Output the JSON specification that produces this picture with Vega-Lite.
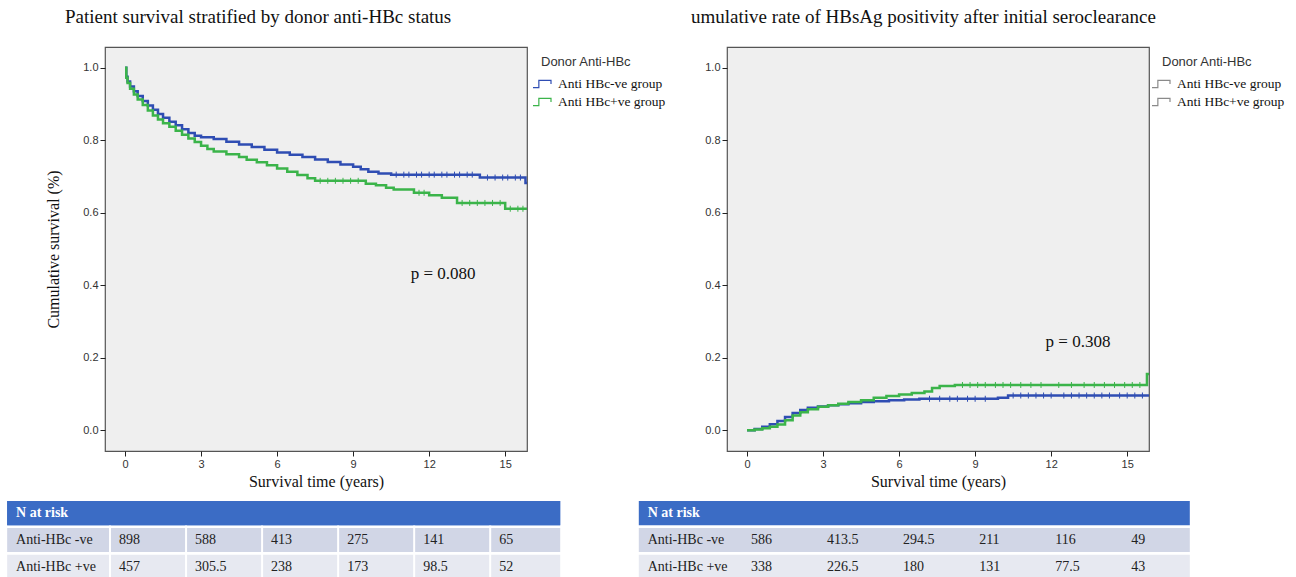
{
  "$schema": "https://vega.github.io/schema/vega-lite/v6.json",
  "background": "white",
  "padding": {"left": 7, "top": 7, "right": 5, "bottom": 0},
  "autosize": {"type": "pad"},
  "bounds": "flush",
  "columns": 2,
  "spacing": {"row": 50, "column": 200},
  "config": {
    "font": "Liberation Sans",
    "axis": {"domain": false, "grid": false, "ticks": true, "tickSize": 5, "tickColor": "#222", "tickWidth": 1, "labelFont": "Liberation Sans", "labelFontSize": 11, "labelColor": "#333", "titleFont": "Liberation Serif", "titleFontSize": 16, "titleFontWeight": "normal", "titleColor": "#111"},
    "axisX": {"labelPadding": 2, "titlePadding": 4},
    "axisY": {"labelPadding": 2, "titlePadding": 21}
  },
  "datasets": {
    "km": [
      {"group": "Anti HBc-ve group", "time": 0, "value": 1.0},
      {"group": "Anti HBc-ve group", "time": 0.05, "value": 0.975},
      {"group": "Anti HBc-ve group", "time": 0.1, "value": 0.962},
      {"group": "Anti HBc-ve group", "time": 0.2, "value": 0.948},
      {"group": "Anti HBc-ve group", "time": 0.35, "value": 0.935},
      {"group": "Anti HBc-ve group", "time": 0.5, "value": 0.922},
      {"group": "Anti HBc-ve group", "time": 0.7, "value": 0.908},
      {"group": "Anti HBc-ve group", "time": 0.9, "value": 0.896},
      {"group": "Anti HBc-ve group", "time": 1.1, "value": 0.884},
      {"group": "Anti HBc-ve group", "time": 1.3, "value": 0.872},
      {"group": "Anti HBc-ve group", "time": 1.5, "value": 0.862},
      {"group": "Anti HBc-ve group", "time": 1.75, "value": 0.851},
      {"group": "Anti HBc-ve group", "time": 2.0, "value": 0.841},
      {"group": "Anti HBc-ve group", "time": 2.25, "value": 0.83},
      {"group": "Anti HBc-ve group", "time": 2.5, "value": 0.82},
      {"group": "Anti HBc-ve group", "time": 2.75, "value": 0.812},
      {"group": "Anti HBc-ve group", "time": 3.0, "value": 0.808},
      {"group": "Anti HBc-ve group", "time": 3.5, "value": 0.803},
      {"group": "Anti HBc-ve group", "time": 4.0, "value": 0.796},
      {"group": "Anti HBc-ve group", "time": 4.5, "value": 0.788},
      {"group": "Anti HBc-ve group", "time": 5.0, "value": 0.781},
      {"group": "Anti HBc-ve group", "time": 5.5, "value": 0.774},
      {"group": "Anti HBc-ve group", "time": 6.0, "value": 0.766},
      {"group": "Anti HBc-ve group", "time": 6.5, "value": 0.76},
      {"group": "Anti HBc-ve group", "time": 7.0, "value": 0.754},
      {"group": "Anti HBc-ve group", "time": 7.5, "value": 0.747},
      {"group": "Anti HBc-ve group", "time": 8.0, "value": 0.74},
      {"group": "Anti HBc-ve group", "time": 8.5, "value": 0.733},
      {"group": "Anti HBc-ve group", "time": 9.0, "value": 0.727},
      {"group": "Anti HBc-ve group", "time": 9.3, "value": 0.72},
      {"group": "Anti HBc-ve group", "time": 9.6, "value": 0.713},
      {"group": "Anti HBc-ve group", "time": 10.0, "value": 0.708},
      {"group": "Anti HBc-ve group", "time": 10.5, "value": 0.705},
      {"group": "Anti HBc-ve group", "time": 14.0, "value": 0.697},
      {"group": "Anti HBc-ve group", "time": 15.8, "value": 0.682},
      {"group": "Anti HBc-ve group", "time": 15.86, "value": 0.682},
      {"group": "Anti HBc+ve group", "time": 0, "value": 1.0},
      {"group": "Anti HBc+ve group", "time": 0.05, "value": 0.972},
      {"group": "Anti HBc+ve group", "time": 0.1, "value": 0.958},
      {"group": "Anti HBc+ve group", "time": 0.2, "value": 0.942},
      {"group": "Anti HBc+ve group", "time": 0.35, "value": 0.926},
      {"group": "Anti HBc+ve group", "time": 0.5, "value": 0.912},
      {"group": "Anti HBc+ve group", "time": 0.7, "value": 0.897},
      {"group": "Anti HBc+ve group", "time": 0.9, "value": 0.882},
      {"group": "Anti HBc+ve group", "time": 1.1, "value": 0.868},
      {"group": "Anti HBc+ve group", "time": 1.3, "value": 0.857},
      {"group": "Anti HBc+ve group", "time": 1.5, "value": 0.847},
      {"group": "Anti HBc+ve group", "time": 1.75, "value": 0.837},
      {"group": "Anti HBc+ve group", "time": 2.0, "value": 0.826},
      {"group": "Anti HBc+ve group", "time": 2.25, "value": 0.815},
      {"group": "Anti HBc+ve group", "time": 2.5, "value": 0.805},
      {"group": "Anti HBc+ve group", "time": 2.75, "value": 0.795},
      {"group": "Anti HBc+ve group", "time": 3.0, "value": 0.785},
      {"group": "Anti HBc+ve group", "time": 3.25, "value": 0.776},
      {"group": "Anti HBc+ve group", "time": 3.5, "value": 0.769},
      {"group": "Anti HBc+ve group", "time": 4.0, "value": 0.761},
      {"group": "Anti HBc+ve group", "time": 4.5, "value": 0.754},
      {"group": "Anti HBc+ve group", "time": 4.8, "value": 0.746},
      {"group": "Anti HBc+ve group", "time": 5.2, "value": 0.739},
      {"group": "Anti HBc+ve group", "time": 5.6, "value": 0.731},
      {"group": "Anti HBc+ve group", "time": 6.0, "value": 0.722},
      {"group": "Anti HBc+ve group", "time": 6.4, "value": 0.713},
      {"group": "Anti HBc+ve group", "time": 6.8, "value": 0.704},
      {"group": "Anti HBc+ve group", "time": 7.2, "value": 0.695},
      {"group": "Anti HBc+ve group", "time": 7.5, "value": 0.688},
      {"group": "Anti HBc+ve group", "time": 9.5, "value": 0.68},
      {"group": "Anti HBc+ve group", "time": 9.9, "value": 0.676},
      {"group": "Anti HBc+ve group", "time": 10.3, "value": 0.669},
      {"group": "Anti HBc+ve group", "time": 10.6, "value": 0.664},
      {"group": "Anti HBc+ve group", "time": 11.4, "value": 0.655},
      {"group": "Anti HBc+ve group", "time": 12.0, "value": 0.648},
      {"group": "Anti HBc+ve group", "time": 12.5, "value": 0.641},
      {"group": "Anti HBc+ve group", "time": 13.1, "value": 0.627},
      {"group": "Anti HBc+ve group", "time": 15.0, "value": 0.611},
      {"group": "Anti HBc+ve group", "time": 15.86, "value": 0.611}
    ],
    "censL": [
      {"group": "Anti HBc-ve group", "time": 10.7, "value": 0.705},
      {"group": "Anti HBc-ve group", "time": 11.0, "value": 0.705},
      {"group": "Anti HBc-ve group", "time": 11.2, "value": 0.705},
      {"group": "Anti HBc-ve group", "time": 11.5, "value": 0.705},
      {"group": "Anti HBc-ve group", "time": 11.7, "value": 0.705},
      {"group": "Anti HBc-ve group", "time": 12.0, "value": 0.705},
      {"group": "Anti HBc-ve group", "time": 12.2, "value": 0.705},
      {"group": "Anti HBc-ve group", "time": 12.5, "value": 0.705},
      {"group": "Anti HBc-ve group", "time": 12.7, "value": 0.705},
      {"group": "Anti HBc-ve group", "time": 13.0, "value": 0.705},
      {"group": "Anti HBc-ve group", "time": 13.2, "value": 0.705},
      {"group": "Anti HBc-ve group", "time": 13.5, "value": 0.705},
      {"group": "Anti HBc-ve group", "time": 13.7, "value": 0.705},
      {"group": "Anti HBc-ve group", "time": 14.3, "value": 0.697},
      {"group": "Anti HBc-ve group", "time": 14.6, "value": 0.697},
      {"group": "Anti HBc-ve group", "time": 14.9, "value": 0.697},
      {"group": "Anti HBc-ve group", "time": 15.1, "value": 0.697},
      {"group": "Anti HBc-ve group", "time": 15.4, "value": 0.697},
      {"group": "Anti HBc-ve group", "time": 15.6, "value": 0.697},
      {"group": "Anti HBc+ve group", "time": 7.7, "value": 0.688},
      {"group": "Anti HBc+ve group", "time": 8.0, "value": 0.688},
      {"group": "Anti HBc+ve group", "time": 8.3, "value": 0.688},
      {"group": "Anti HBc+ve group", "time": 8.6, "value": 0.688},
      {"group": "Anti HBc+ve group", "time": 8.9, "value": 0.688},
      {"group": "Anti HBc+ve group", "time": 9.2, "value": 0.688},
      {"group": "Anti HBc+ve group", "time": 11.6, "value": 0.655},
      {"group": "Anti HBc+ve group", "time": 11.8, "value": 0.655},
      {"group": "Anti HBc+ve group", "time": 13.3, "value": 0.627},
      {"group": "Anti HBc+ve group", "time": 13.6, "value": 0.627},
      {"group": "Anti HBc+ve group", "time": 13.9, "value": 0.627},
      {"group": "Anti HBc+ve group", "time": 14.2, "value": 0.627},
      {"group": "Anti HBc+ve group", "time": 14.5, "value": 0.627},
      {"group": "Anti HBc+ve group", "time": 14.8, "value": 0.627},
      {"group": "Anti HBc+ve group", "time": 15.2, "value": 0.611},
      {"group": "Anti HBc+ve group", "time": 15.5, "value": 0.611},
      {"group": "Anti HBc+ve group", "time": 15.7, "value": 0.611}
    ],
    "ci": [
      {"group": "Anti HBc-ve group", "time": 0, "value": 0},
      {"group": "Anti HBc-ve group", "time": 0.3, "value": 0.004},
      {"group": "Anti HBc-ve group", "time": 0.6, "value": 0.01},
      {"group": "Anti HBc-ve group", "time": 0.9, "value": 0.017},
      {"group": "Anti HBc-ve group", "time": 1.2, "value": 0.026},
      {"group": "Anti HBc-ve group", "time": 1.5, "value": 0.037},
      {"group": "Anti HBc-ve group", "time": 1.8, "value": 0.048},
      {"group": "Anti HBc-ve group", "time": 2.1, "value": 0.056},
      {"group": "Anti HBc-ve group", "time": 2.4, "value": 0.062},
      {"group": "Anti HBc-ve group", "time": 2.8, "value": 0.066},
      {"group": "Anti HBc-ve group", "time": 3.2, "value": 0.069},
      {"group": "Anti HBc-ve group", "time": 3.6, "value": 0.072},
      {"group": "Anti HBc-ve group", "time": 4.0, "value": 0.075},
      {"group": "Anti HBc-ve group", "time": 4.5, "value": 0.078},
      {"group": "Anti HBc-ve group", "time": 5.0, "value": 0.08},
      {"group": "Anti HBc-ve group", "time": 5.6, "value": 0.083},
      {"group": "Anti HBc-ve group", "time": 6.2, "value": 0.085},
      {"group": "Anti HBc-ve group", "time": 6.8, "value": 0.087},
      {"group": "Anti HBc-ve group", "time": 9.9, "value": 0.09},
      {"group": "Anti HBc-ve group", "time": 10.3, "value": 0.096},
      {"group": "Anti HBc-ve group", "time": 15.86, "value": 0.096},
      {"group": "Anti HBc+ve group", "time": 0, "value": 0},
      {"group": "Anti HBc+ve group", "time": 0.3, "value": 0.002},
      {"group": "Anti HBc+ve group", "time": 0.6, "value": 0.006},
      {"group": "Anti HBc+ve group", "time": 0.9, "value": 0.01},
      {"group": "Anti HBc+ve group", "time": 1.2, "value": 0.016},
      {"group": "Anti HBc+ve group", "time": 1.5, "value": 0.028},
      {"group": "Anti HBc+ve group", "time": 1.8, "value": 0.041},
      {"group": "Anti HBc+ve group", "time": 2.1, "value": 0.05},
      {"group": "Anti HBc+ve group", "time": 2.4, "value": 0.058},
      {"group": "Anti HBc+ve group", "time": 2.8, "value": 0.065},
      {"group": "Anti HBc+ve group", "time": 3.2, "value": 0.069},
      {"group": "Anti HBc+ve group", "time": 3.6, "value": 0.073},
      {"group": "Anti HBc+ve group", "time": 4.0, "value": 0.078},
      {"group": "Anti HBc+ve group", "time": 4.5, "value": 0.083},
      {"group": "Anti HBc+ve group", "time": 5.0, "value": 0.09},
      {"group": "Anti HBc+ve group", "time": 5.5, "value": 0.095},
      {"group": "Anti HBc+ve group", "time": 6.0, "value": 0.099},
      {"group": "Anti HBc+ve group", "time": 6.5, "value": 0.103},
      {"group": "Anti HBc+ve group", "time": 7.0, "value": 0.107},
      {"group": "Anti HBc+ve group", "time": 7.3, "value": 0.117},
      {"group": "Anti HBc+ve group", "time": 7.6, "value": 0.122},
      {"group": "Anti HBc+ve group", "time": 8.2, "value": 0.125},
      {"group": "Anti HBc+ve group", "time": 15.72, "value": 0.125},
      {"group": "Anti HBc+ve group", "time": 15.78, "value": 0.155},
      {"group": "Anti HBc+ve group", "time": 15.86, "value": 0.155}
    ],
    "censR": [
      {"group": "Anti HBc-ve group", "time": 7.2, "value": 0.087},
      {"group": "Anti HBc-ve group", "time": 7.6, "value": 0.087},
      {"group": "Anti HBc-ve group", "time": 8.0, "value": 0.087},
      {"group": "Anti HBc-ve group", "time": 8.3, "value": 0.087},
      {"group": "Anti HBc-ve group", "time": 8.7, "value": 0.087},
      {"group": "Anti HBc-ve group", "time": 9.0, "value": 0.087},
      {"group": "Anti HBc-ve group", "time": 9.4, "value": 0.087},
      {"group": "Anti HBc-ve group", "time": 10.5, "value": 0.096},
      {"group": "Anti HBc-ve group", "time": 10.8, "value": 0.096},
      {"group": "Anti HBc-ve group", "time": 11.1, "value": 0.096},
      {"group": "Anti HBc-ve group", "time": 11.4, "value": 0.096},
      {"group": "Anti HBc-ve group", "time": 11.7, "value": 0.096},
      {"group": "Anti HBc-ve group", "time": 12.0, "value": 0.096},
      {"group": "Anti HBc-ve group", "time": 12.5, "value": 0.096},
      {"group": "Anti HBc-ve group", "time": 12.8, "value": 0.096},
      {"group": "Anti HBc-ve group", "time": 13.1, "value": 0.096},
      {"group": "Anti HBc-ve group", "time": 13.4, "value": 0.096},
      {"group": "Anti HBc-ve group", "time": 13.7, "value": 0.096},
      {"group": "Anti HBc-ve group", "time": 14.0, "value": 0.096},
      {"group": "Anti HBc-ve group", "time": 14.3, "value": 0.096},
      {"group": "Anti HBc-ve group", "time": 14.7, "value": 0.096},
      {"group": "Anti HBc-ve group", "time": 15.0, "value": 0.096},
      {"group": "Anti HBc-ve group", "time": 15.3, "value": 0.096},
      {"group": "Anti HBc-ve group", "time": 15.6, "value": 0.096},
      {"group": "Anti HBc+ve group", "time": 8.5, "value": 0.125},
      {"group": "Anti HBc+ve group", "time": 8.8, "value": 0.125},
      {"group": "Anti HBc+ve group", "time": 9.1, "value": 0.125},
      {"group": "Anti HBc+ve group", "time": 9.4, "value": 0.125},
      {"group": "Anti HBc+ve group", "time": 9.8, "value": 0.125},
      {"group": "Anti HBc+ve group", "time": 10.1, "value": 0.125},
      {"group": "Anti HBc+ve group", "time": 10.4, "value": 0.125},
      {"group": "Anti HBc+ve group", "time": 10.8, "value": 0.125},
      {"group": "Anti HBc+ve group", "time": 11.2, "value": 0.125},
      {"group": "Anti HBc+ve group", "time": 11.6, "value": 0.125},
      {"group": "Anti HBc+ve group", "time": 12.3, "value": 0.125},
      {"group": "Anti HBc+ve group", "time": 12.8, "value": 0.125},
      {"group": "Anti HBc+ve group", "time": 13.3, "value": 0.125},
      {"group": "Anti HBc+ve group", "time": 13.7, "value": 0.125},
      {"group": "Anti HBc+ve group", "time": 14.1, "value": 0.125},
      {"group": "Anti HBc+ve group", "time": 14.5, "value": 0.125},
      {"group": "Anti HBc+ve group", "time": 14.9, "value": 0.125},
      {"group": "Anti HBc+ve group", "time": 15.2, "value": 0.125},
      {"group": "Anti HBc+ve group", "time": 15.5, "value": 0.125}
    ],
    "rows": [
      {"row": "N at risk"},
      {"row": "Anti-HBc -ve"},
      {"row": "Anti-HBc +ve"}
    ],
    "riskL": [
      {"row": "Anti-HBc -ve", "time": 0, "n": "898"},
      {"row": "Anti-HBc -ve", "time": 3, "n": "588"},
      {"row": "Anti-HBc -ve", "time": 6, "n": "413"},
      {"row": "Anti-HBc -ve", "time": 9, "n": "275"},
      {"row": "Anti-HBc -ve", "time": 12, "n": "141"},
      {"row": "Anti-HBc -ve", "time": 15, "n": "65"},
      {"row": "Anti-HBc +ve", "time": 0, "n": "457"},
      {"row": "Anti-HBc +ve", "time": 3, "n": "305.5"},
      {"row": "Anti-HBc +ve", "time": 6, "n": "238"},
      {"row": "Anti-HBc +ve", "time": 9, "n": "173"},
      {"row": "Anti-HBc +ve", "time": 12, "n": "98.5"},
      {"row": "Anti-HBc +ve", "time": 15, "n": "52"}
    ],
    "riskR": [
      {"row": "Anti-HBc -ve", "time": 0, "n": "586"},
      {"row": "Anti-HBc -ve", "time": 3, "n": "413.5"},
      {"row": "Anti-HBc -ve", "time": 6, "n": "294.5"},
      {"row": "Anti-HBc -ve", "time": 9, "n": "211"},
      {"row": "Anti-HBc -ve", "time": 12, "n": "116"},
      {"row": "Anti-HBc -ve", "time": 15, "n": "49"},
      {"row": "Anti-HBc +ve", "time": 0, "n": "338"},
      {"row": "Anti-HBc +ve", "time": 3, "n": "226.5"},
      {"row": "Anti-HBc +ve", "time": 6, "n": "180"},
      {"row": "Anti-HBc +ve", "time": 9, "n": "131"},
      {"row": "Anti-HBc +ve", "time": 12, "n": "77.5"},
      {"row": "Anti-HBc +ve", "time": 15, "n": "43"}
    ],
    "pL": [{"label": "p = 0.080"}],
    "pR": [{"label": "p = 0.308"}]
  },
  "resolve": {"scale": {"x": "independent", "y": "independent", "color": "independent", "stroke": "independent"}, "legend": {"color": "independent", "stroke": "independent"}},
  "concat": [
    {
      "width": 422,
      "height": 404,
      "title": {"text": "Patient survival stratified by donor anti-HBc status", "anchor": "start", "frame": "group", "dx": -40, "offset": 20, "font": "Liberation Serif", "fontSize": 19, "fontWeight": "normal", "color": "#111"},
      "view": {"fill": "#efefef", "stroke": "#555", "strokeWidth": 1.2},
      "layer": [
        {
          "data": {"name": "km"},
          "mark": {"type": "line", "interpolate": "step-after", "strokeWidth": 2.5},
          "encoding": {
            "x": {"field": "time", "type": "quantitative", "scale": {"domain": [-0.79, 15.86], "nice": false, "zero": false}, "axis": {"values": [0, 3, 6, 9, 12, 15], "title": "Survival time (years)"}},
            "y": {"field": "value", "type": "quantitative", "scale": {"domain": [-0.057, 1.057], "nice": false, "zero": false}, "axis": {"values": [0, 0.2, 0.4, 0.6, 0.8, 1.0], "format": ".1f", "title": "Cumulative survival (%)"}},
            "color": {"field": "group", "type": "nominal", "scale": {"domain": ["Anti HBc-ve group", "Anti HBc+ve group"], "range": ["#2f4db3", "#3bb44a"]},
              "legend": {"title": "Donor Anti-HBc", "orient": "none", "legendX": 427, "legendY": 9, "direction": "vertical", "symbolType": "M-1,0.4H-0.35V-0.4H1V0", "symbolSize": 324, "symbolStrokeWidth": 1.2, "symbolFillColor": "transparent", "labelFont": "Liberation Serif", "labelFontSize": 13.5, "labelColor": "#111", "labelOffset": 6, "titleFont": "Liberation Sans", "titleFontSize": 13, "titleFontWeight": "normal", "titleColor": "#333", "titlePadding": 5, "rowPadding": 1, "padding": 0,
                "encode": {"title": {"update": {"dx": {"value": 9}}}, "symbols": {"update": {"fill": {"value": "transparent"}}}}}}
          }
        },
        {
          "data": {"name": "censL"},
          "mark": {"type": "point", "shape": "M0,-1V1", "filled": false, "size": 36, "strokeWidth": 1, "opacity": 1},
          "encoding": {
            "x": {"field": "time", "type": "quantitative"},
            "y": {"field": "value", "type": "quantitative"},
            "color": {"field": "group", "type": "nominal"}
          }
        },
        {
          "data": {"name": "pL"},
          "mark": {"type": "text", "font": "Liberation Serif", "fontSize": 17, "color": "#111", "align": "center", "baseline": "middle"},
          "encoding": {"x": {"datum": 12.55}, "y": {"datum": 0.43}, "text": {"field": "label"}}
        }
      ]
    },
    {
      "width": 422,
      "height": 404,
      "title": {"text": "umulative rate of HBsAg positivity after initial seroclearance", "anchor": "start", "frame": "group", "dx": -36, "offset": 20, "font": "Liberation Serif", "fontSize": 19, "fontWeight": "normal", "color": "#111"},
      "view": {"fill": "#efefef", "stroke": "#555", "strokeWidth": 1.2},
      "layer": [
        {
          "data": {"name": "ci"},
          "mark": {"type": "line", "interpolate": "step-after", "strokeWidth": 0},
          "encoding": {
            "x": {"field": "time", "type": "quantitative", "scale": {"domain": [-0.79, 15.86], "nice": false, "zero": false}, "axis": {"values": [0, 3, 6, 9, 12, 15], "title": "Survival time (years)"}},
            "y": {"field": "value", "type": "quantitative", "scale": {"domain": [-0.057, 1.057], "nice": false, "zero": false}, "axis": {"values": [0, 0.2, 0.4, 0.6, 0.8, 1.0], "format": ".1f", "title": null}},
            "stroke": {"field": "group", "type": "nominal", "scale": {"domain": ["Anti HBc-ve group", "Anti HBc+ve group"], "range": ["#8a8a8a", "#8a8a8a"]},
              "legend": {"title": "Donor Anti-HBc", "orient": "none", "legendX": 424, "legendY": 9, "direction": "vertical", "symbolType": "M-1,0.4H-0.35V-0.4H1V0", "symbolSize": 324, "symbolStrokeWidth": 1.2, "symbolFillColor": "transparent", "symbolOpacity": 1, "labelFont": "Liberation Serif", "labelFontSize": 13.5, "labelColor": "#111", "labelOffset": 6, "titleFont": "Liberation Sans", "titleFontSize": 13, "titleFontWeight": "normal", "titleColor": "#333", "titlePadding": 5, "rowPadding": 1, "padding": 0,
                "encode": {"title": {"update": {"dx": {"value": 11}}}, "symbols": {"update": {"fill": {"value": "transparent"}, "strokeWidth": {"value": 1.2}}}}}}
          }
        },
        {
          "data": {"name": "ci"},
          "mark": {"type": "line", "interpolate": "step-after", "strokeWidth": 2.5},
          "encoding": {
            "x": {"field": "time", "type": "quantitative"},
            "y": {"field": "value", "type": "quantitative"},
            "color": {"field": "group", "type": "nominal", "scale": {"domain": ["Anti HBc-ve group", "Anti HBc+ve group"], "range": ["#2f4db3", "#3bb44a"]}, "legend": null}
          }
        },
        {
          "data": {"name": "censR"},
          "mark": {"type": "point", "shape": "M0,-1V1", "filled": false, "size": 36, "strokeWidth": 1, "opacity": 1},
          "encoding": {
            "x": {"field": "time", "type": "quantitative"},
            "y": {"field": "value", "type": "quantitative"},
            "color": {"field": "group", "type": "nominal", "legend": null}
          }
        },
        {
          "data": {"name": "pR"},
          "mark": {"type": "text", "font": "Liberation Serif", "fontSize": 17, "color": "#111", "align": "center", "baseline": "middle"},
          "encoding": {"x": {"datum": 13.06}, "y": {"datum": 0.243}, "text": {"field": "label"}}
        }
      ]
    },
    {
      "width": 422,
      "height": 78,
      "view": {"stroke": null, "fill": null},
      "layer": [
        {
          "data": {"name": "rows"},
          "mark": {"type": "rect"},
          "encoding": {
            "x": {"datum": -4.65, "type": "quantitative", "scale": {"domain": [-0.79, 15.86], "nice": false, "zero": false}, "axis": null},
            "x2": {"datum": 17.17},
            "y": {"field": "row", "type": "nominal", "scale": {"domain": ["N at risk", "Anti-HBc -ve", "Anti-HBc +ve"], "paddingInner": 0.1, "paddingOuter": 0}, "axis": null},
            "color": {"field": "row", "type": "nominal", "scale": {"domain": ["N at risk", "Anti-HBc -ve", "Anti-HBc +ve"], "range": ["#3b6cc5", "#d1d6e6", "#e7e9f1"]}, "legend": null}
          }
        },
        {
          "data": {"name": "riskL"},
          "transform": [{"filter": "datum.row === 'Anti-HBc -ve'"}],
          "mark": {"type": "rule", "color": "white", "strokeWidth": 2, "xOffset": -15},
          "encoding": {"x": {"field": "time", "type": "quantitative"}}
        },
        {
          "data": {"name": "rows"},
          "transform": [{"filter": "datum.row === 'N at risk'"}],
          "mark": {"type": "rect"},
          "encoding": {
            "x": {"datum": -4.65},
            "x2": {"datum": 17.17},
            "y": {"field": "row", "type": "nominal"},
            "color": {"field": "row", "type": "nominal"}
          }
        },
        {
          "data": {"name": "rows"},
          "transform": [{"filter": "datum.row !== 'N at risk'"}],
          "mark": {"type": "text", "align": "left", "baseline": "middle", "font": "Liberation Serif", "fontSize": 14, "color": "#222"},
          "encoding": {
            "x": {"datum": -4.3},
            "y": {"field": "row", "type": "nominal"},
            "text": {"field": "row"}
          }
        },
        {
          "data": {"name": "rows"},
          "transform": [{"filter": "datum.row === 'N at risk'"}],
          "mark": {"type": "text", "align": "left", "baseline": "middle", "font": "Liberation Serif", "fontSize": 14, "fontWeight": "bold", "color": "white"},
          "encoding": {
            "x": {"datum": -4.3},
            "y": {"field": "row", "type": "nominal"},
            "text": {"field": "row"}
          }
        },
        {
          "data": {"name": "riskL"},
          "mark": {"type": "text", "align": "left", "baseline": "middle", "font": "Liberation Serif", "fontSize": 14, "color": "#222", "dx": -6},
          "encoding": {
            "x": {"field": "time", "type": "quantitative"},
            "y": {"field": "row", "type": "nominal"},
            "text": {"field": "n"}
          }
        }
      ]
    },
    {
      "width": 422,
      "height": 78,
      "view": {"stroke": null, "fill": null},
      "layer": [
        {
          "data": {"name": "rows"},
          "mark": {"type": "rect"},
          "encoding": {
            "x": {"datum": -4.27, "type": "quantitative", "scale": {"domain": [-0.79, 15.86], "nice": false, "zero": false}, "axis": null},
            "x2": {"datum": 17.47},
            "y": {"field": "row", "type": "nominal", "scale": {"domain": ["N at risk", "Anti-HBc -ve", "Anti-HBc +ve"], "paddingInner": 0.1, "paddingOuter": 0}, "axis": null},
            "color": {"field": "row", "type": "nominal", "scale": {"domain": ["N at risk", "Anti-HBc -ve", "Anti-HBc +ve"], "range": ["#3b6cc5", "#d1d6e6", "#e7e9f1"]}, "legend": null}
          }
        },
        {
          "data": {"name": "rows"},
          "transform": [{"filter": "datum.row !== 'N at risk'"}],
          "mark": {"type": "text", "align": "left", "baseline": "middle", "font": "Liberation Serif", "fontSize": 14, "color": "#222"},
          "encoding": {
            "x": {"datum": -3.92},
            "y": {"field": "row", "type": "nominal"},
            "text": {"field": "row"}
          }
        },
        {
          "data": {"name": "rows"},
          "transform": [{"filter": "datum.row === 'N at risk'"}],
          "mark": {"type": "text", "align": "left", "baseline": "middle", "font": "Liberation Serif", "fontSize": 14, "fontWeight": "bold", "color": "white"},
          "encoding": {
            "x": {"datum": -3.92},
            "y": {"field": "row", "type": "nominal"},
            "text": {"field": "row"}
          }
        },
        {
          "data": {"name": "riskR"},
          "mark": {"type": "text", "align": "left", "baseline": "middle", "font": "Liberation Serif", "fontSize": 14, "color": "#222", "dx": 4},
          "encoding": {
            "x": {"field": "time", "type": "quantitative"},
            "y": {"field": "row", "type": "nominal"},
            "text": {"field": "n"}
          }
        }
      ]
    }
  ]
}
